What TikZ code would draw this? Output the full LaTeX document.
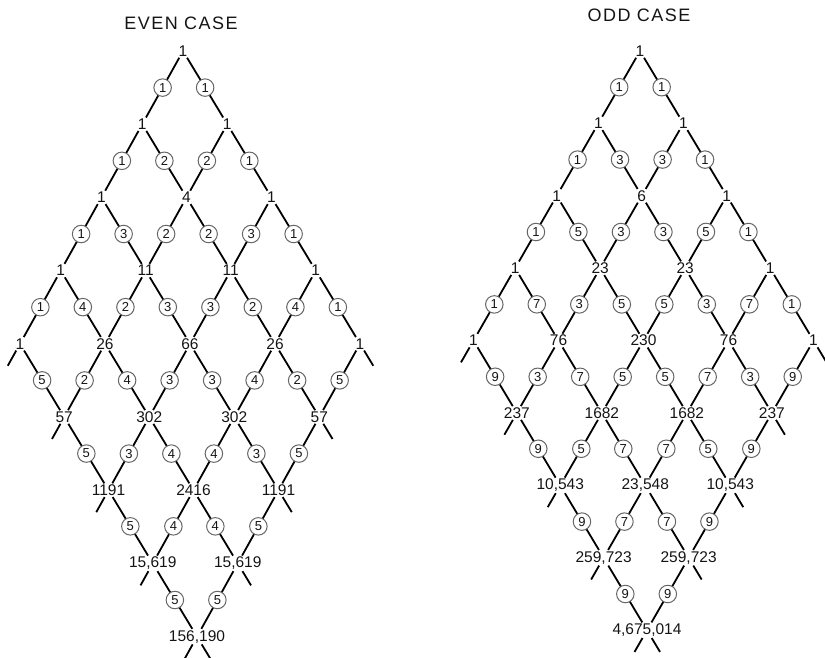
\documentclass[tikz,border=0pt]{standalone}
\usepackage{fontspec}
\setmainfont{Liberation Sans}
\newfontfamily\titlefont[LetterSpace=8]{Liberation Sans}
\begin{document}
\begin{tikzpicture}[x=1pt,y=-1pt,
  vlab/.style={font=\fontsize{15.5}{15.5}\selectfont, inner xsep=0.8pt, inner ysep=1.2pt, text=black!92},
  circ/.style={circle, draw=black!60, line width=1pt, fill=white, minimum size=17.5pt, inner sep=0pt, font=\fontsize{13}{13}\selectfont, text=black!92},
  edge/.style={line width=1.8pt, black},
  ttl/.style={font=\titlefont\fontsize{18}{18}\selectfont, text=black!92}]
\useasboundingbox (0,0) rectangle (825,657);
\node[ttl] (t1) at (181,23) {EVEN CASE};
\node[ttl] (t2) at (639,15) {ODD CASE};
% ---------------- EVEN CASE ----------------
\foreach \a/\b/\t in {0/0/1, 1/0/1, 0/1/1, 2/0/1, 1/1/4, 0/2/1, 3/0/1, 2/1/11, 1/2/11, 0/3/1,
  4/0/1, 3/1/26, 2/2/66, 1/3/26, 0/4/1, 4/1/57, 3/2/302, 2/3/302, 1/4/57,
  4/2/1191, 3/3/2416, 2/4/1191, 4/3/{15,619}, 3/4/{15,619}, 4/4/{156,190}}
  \node[vlab] (E\a\b) at ({183+(\b-\a)*42.5+1.75*(\a+\b)}, {51+73.2*(\a+\b)}) {\t};
\foreach \a in {0,...,4} {
  \coordinate (Esr\a) at ({183+(4.3-\a)*42.5+1.75*(\a+4.3)}, {51+73.2*(\a+4.3)});
  \coordinate (Esl\a) at ({183+(\a-4.3)*42.5+1.75*(\a+4.3)}, {51+73.2*(\a+4.3)});
  \draw[edge] (E\a4) -- (Esr\a);
  \draw[edge] (E4\a) -- (Esl\a);
  \foreach \b in {0,...,3} {
    \pgfmathtruncatemacro\nb{\b+1}
    \pgfmathtruncatemacro\vr{\a+1}
    \draw[edge] (E\a\b) -- node[circ]{\vr} (E\a\nb);
    \draw[edge] (E\b\a) -- node[circ]{\vr} (E\nb\a);
  }
}
% ---------------- ODD CASE ----------------
\foreach \a/\b/\t in {0/0/1, 1/0/1, 0/1/1, 2/0/1, 1/1/6, 0/2/1, 3/0/1, 2/1/23, 1/2/23, 0/3/1,
  4/0/1, 3/1/76, 2/2/230, 1/3/76, 0/4/1, 4/1/237, 3/2/1682, 2/3/1682, 1/4/237,
  4/2/{10,543}, 3/3/{23,548}, 2/4/{10,543}, 4/3/{259,723}, 3/4/{259,723}, 4/4/{4,675,014}}
  \node[vlab] (O\a\b) at ({640+(\b-\a)*42.5+0.875*(\a+\b)}, {51+72.4*(\a+\b)}) {\t};
\foreach \a in {0,...,4} {
  \coordinate (Osr\a) at ({640+(4.3-\a)*42.5+0.875*(\a+4.3)}, {51+72.4*(\a+4.3)});
  \coordinate (Osl\a) at ({640+(\a-4.3)*42.5+0.875*(\a+4.3)}, {51+72.4*(\a+4.3)});
  \draw[edge] (O\a4) -- (Osr\a);
  \draw[edge] (O4\a) -- (Osl\a);
  \foreach \b in {0,...,3} {
    \pgfmathtruncatemacro\nb{\b+1}
    \pgfmathtruncatemacro\vr{2*\a+1}
    \draw[edge] (O\a\b) -- node[circ]{\vr} (O\a\nb);
    \draw[edge] (O\b\a) -- node[circ]{\vr} (O\nb\a);
  }
}
\end{tikzpicture}
\end{document}
